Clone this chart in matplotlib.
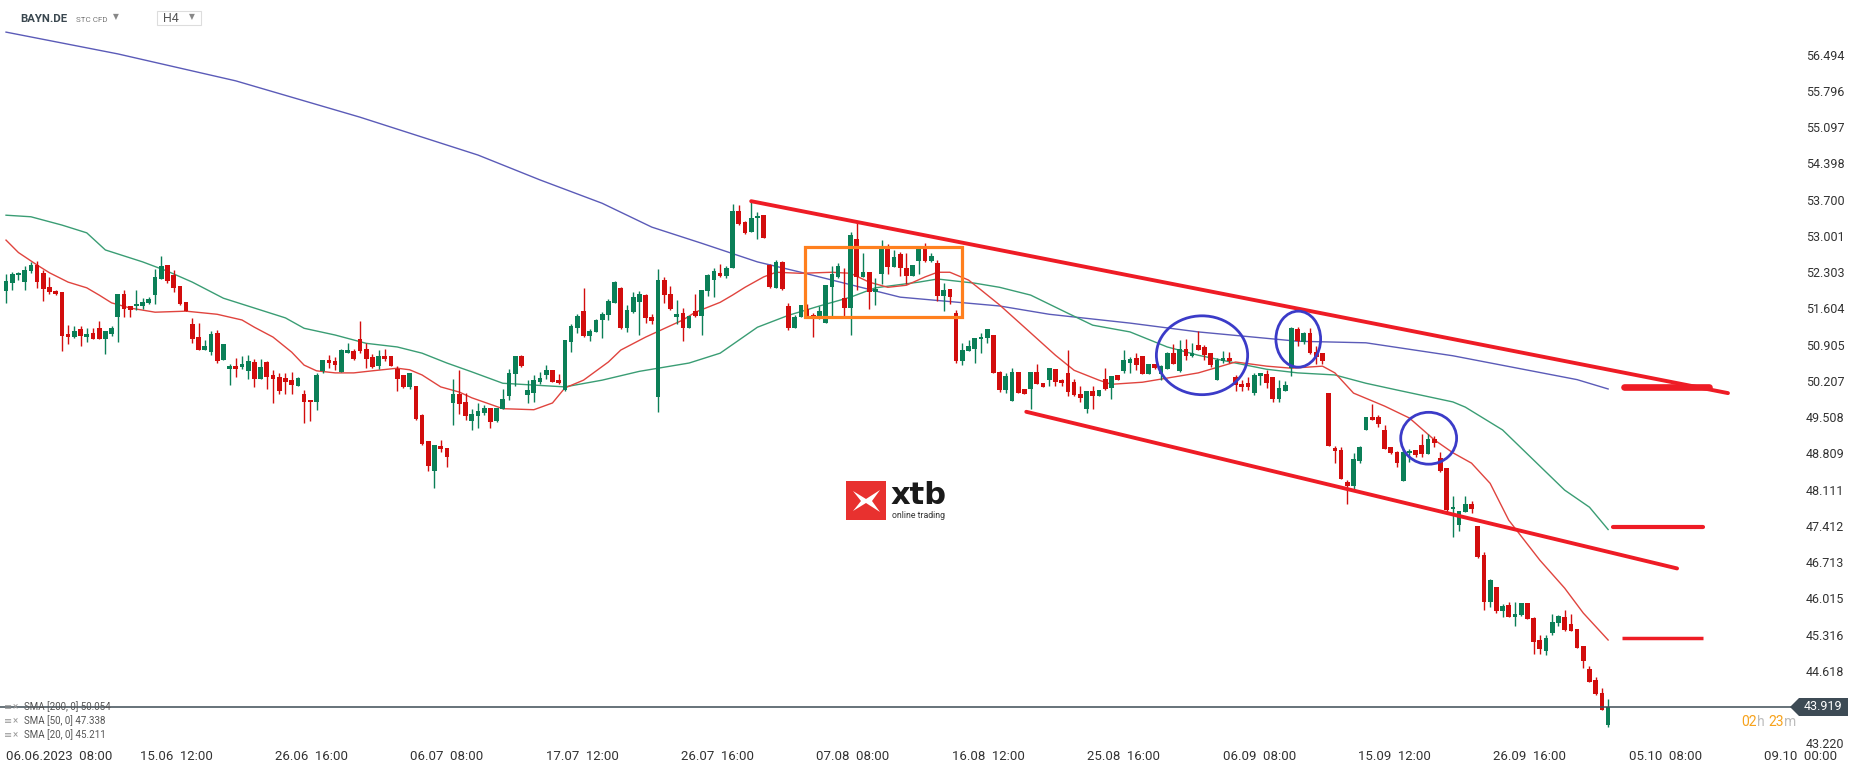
import numpy as np
import matplotlib.pyplot as plt
from matplotlib.patches import Ellipse, Rectangle, Polygon

plt.rcParams['font.family'] = ['Roboto', 'DejaVu Sans']

# H4 candles, BAYN.DE
open_ = [51.93, 52.10, 52.24, 52.12, 52.33, 52.44, 52.29, 52.01, 51.94, 51.92,
         51.11, 51.06, 51.21, 51.06, 51.13, 51.23, 51.02, 51.11, 51.43, 51.88,
         51.64, 51.64, 51.65, 51.71, 51.86, 52.17, 52.44, 52.25, 52.04, 51.73,
         51.30, 51.06, 50.81, 50.77, 51.13, 50.60, 50.43, 50.49, 50.47, 50.40,
         50.57, 50.25, 50.57, 50.31, 50.28, 50.26, 50.22, 50.11, 49.95, 49.84,
         49.80, 50.40, 50.61, 50.59, 50.38, 50.75, 50.78, 51.01, 50.82, 50.67,
         50.50, 50.69, 50.69, 50.43, 50.31, 50.09, 50.11, 49.55, 49.05, 48.47,
         48.96, 48.91, 49.77, 49.95, 49.80, 49.44, 49.53, 49.59, 49.69, 49.44,
         49.67, 49.91, 50.34, 50.69, 49.93, 49.98, 50.19, 50.32, 50.42, 50.22,
         50.03, 50.96, 51.22, 51.55, 51.08, 51.14, 51.38, 51.48, 51.71, 52.00,
         51.23, 51.54, 51.73, 51.86, 51.44, 49.90, 52.16, 51.89, 51.44, 51.51,
         51.23, 51.55, 51.46, 51.93, 52.15, 52.29, 52.23, 52.39, 53.48, 53.26,
         53.08, 53.34, 53.40, 52.44, 52.00, 52.50, 51.65, 51.23, 51.43, 51.60,
         51.48, 51.39, 51.33, 52.01, 52.20, 51.80, 51.62, 52.95, 52.20, 52.31,
         51.91, 52.26, 52.76, 52.40, 52.65, 52.39, 52.23, 52.52, 52.76, 52.52,
         52.48, 51.84, 51.97, 51.51, 50.58, 50.79, 50.83, 51.01, 51.03, 51.09,
         50.38, 50.03, 49.82, 50.38, 50.05, 50.05, 50.38, 50.16, 50.22, 50.43,
         50.22, 50.35, 50.18, 49.95, 49.67, 50.01, 49.91, 50.25, 50.06, 50.32,
         50.40, 50.56, 50.64, 50.68, 50.34, 50.53, 50.34, 50.43, 50.75, 50.40,
         50.82, 50.68, 50.89, 50.85, 50.74, 50.23, 50.59, 50.64, 50.29, 50.14,
         50.17, 49.98, 50.30, 50.34, 50.28, 49.86, 50.02, 50.45, 51.21, 50.96,
         51.12, 50.77, 50.74, 49.98, 48.92, 48.87, 48.26, 48.18, 48.67, 49.26,
         49.51, 49.51, 49.26, 48.94, 48.83, 48.28, 48.81, 48.87, 48.97, 48.80,
         49.08, 48.71, 48.52, 47.73, 47.43, 47.67, 47.83, 47.41, 46.85, 45.95,
         46.23, 45.77, 45.89, 45.66, 45.69, 45.92, 45.63, 45.21, 45.00, 45.35,
         45.53, 45.65, 45.52, 45.42, 45.09, 44.65, 44.44, 44.19, 43.57]
high = [52.27, 52.31, 52.31, 52.42, 52.50, 52.52, 52.34, 52.20, 51.96, 51.92,
        51.28, 51.26, 51.26, 51.23, 51.22, 51.37, 51.16, 51.26, 51.88, 51.96,
        51.65, 51.95, 51.80, 51.82, 52.36, 52.62, 52.44, 52.34, 52.04, 51.73,
        51.42, 51.32, 50.99, 51.17, 51.19, 50.92, 50.54, 50.64, 50.69, 50.70,
        50.63, 50.63, 50.59, 50.42, 50.36, 50.36, 50.38, 50.29, 50.03, 49.84,
        50.35, 50.60, 50.71, 50.67, 50.82, 50.94, 50.82, 51.36, 50.94, 50.72,
        50.80, 50.82, 50.69, 50.50, 50.31, 50.36, 50.11, 49.57, 49.05, 48.97,
        49.07, 48.91, 50.24, 50.42, 49.97, 49.66, 49.78, 49.74, 49.69, 49.69,
        50.04, 50.44, 50.69, 50.70, 50.22, 50.32, 50.38, 50.51, 50.42, 50.34,
        50.99, 51.31, 51.49, 52.00, 51.21, 51.39, 51.54, 51.78, 52.13, 52.02,
        51.67, 51.91, 51.94, 51.89, 51.49, 52.36, 52.21, 52.04, 51.76, 51.62,
        51.46, 51.89, 51.96, 52.26, 52.39, 52.46, 52.42, 53.61, 53.60, 53.29,
        53.69, 53.47, 53.40, 52.46, 52.54, 52.52, 51.70, 51.48, 51.67, 51.69,
        51.51, 51.64, 52.05, 52.42, 52.47, 52.38, 53.08, 53.26, 52.68, 52.31,
        52.18, 52.92, 52.84, 52.72, 52.70, 52.68, 52.44, 52.79, 52.86, 52.68,
        52.54, 52.09, 51.97, 51.58, 50.94, 50.99, 51.03, 51.13, 51.20, 51.09,
        50.40, 50.35, 50.45, 50.38, 50.05, 50.38, 50.53, 50.16, 50.45, 50.43,
        50.25, 50.81, 50.25, 50.11, 50.01, 50.11, 50.03, 50.45, 50.30, 50.32,
        50.80, 50.66, 50.74, 50.68, 50.53, 50.53, 50.51, 50.77, 50.91, 50.99,
        51.01, 50.94, 51.17, 50.90, 50.74, 50.65, 50.78, 50.77, 50.32, 50.22,
        50.29, 50.36, 50.36, 50.42, 50.28, 50.22, 50.21, 51.25, 51.25, 51.15,
        51.22, 50.88, 50.75, 49.98, 48.96, 48.94, 48.29, 48.81, 48.95, 49.51,
        49.76, 49.55, 49.35, 48.94, 48.86, 48.90, 48.90, 48.87, 49.18, 49.18,
        49.14, 48.84, 48.52, 47.99, 47.70, 47.99, 47.89, 47.41, 46.91, 46.38,
        46.23, 45.90, 45.95, 45.95, 45.92, 45.92, 45.65, 45.31, 45.31, 45.71,
        45.69, 45.79, 45.72, 45.42, 45.09, 44.71, 44.49, 44.28, 44.07]
low = [51.70, 51.95, 52.15, 51.96, 52.28, 52.00, 51.75, 51.89, 51.86, 50.79,
       50.92, 51.04, 50.87, 50.96, 51.01, 51.01, 50.72, 51.08, 50.96, 51.44,
       51.44, 51.57, 51.60, 51.69, 51.69, 52.17, 52.09, 51.91, 51.67, 51.56,
       50.94, 50.81, 50.81, 50.70, 50.56, 50.60, 50.12, 50.29, 50.44, 50.24,
       50.09, 50.25, 50.04, 49.77, 49.95, 49.95, 49.95, 50.11, 49.40, 49.44,
       49.64, 50.36, 50.45, 50.42, 50.38, 50.75, 50.61, 50.74, 50.46, 50.45,
       50.44, 50.59, 50.50, 50.02, 50.06, 50.04, 49.46, 48.97, 48.47, 48.14,
       48.84, 48.55, 49.36, 49.56, 49.45, 49.26, 49.29, 49.55, 49.30, 49.42,
       49.67, 49.84, 50.11, 50.48, 49.77, 49.79, 50.14, 50.25, 50.18, 50.15,
       50.02, 50.77, 51.12, 51.06, 50.98, 51.14, 51.03, 51.38, 51.71, 51.20,
       51.14, 51.51, 51.10, 51.33, 51.31, 49.60, 51.70, 51.57, 51.30, 50.98,
       51.23, 51.44, 51.10, 51.84, 51.82, 52.20, 52.18, 52.39, 53.22, 53.04,
       53.08, 52.95, 52.97, 51.99, 51.99, 51.96, 51.19, 51.23, 51.43, 51.43,
       51.06, 51.39, 51.33, 51.44, 52.18, 51.46, 51.09, 51.96, 52.20, 51.59,
       51.67, 52.07, 52.27, 52.40, 52.22, 52.07, 52.23, 52.26, 52.50, 52.49,
       51.75, 51.56, 51.69, 50.56, 50.52, 50.79, 50.56, 50.74, 50.93, 50.35,
       50.00, 49.98, 49.82, 49.98, 49.95, 49.66, 50.14, 50.09, 50.11, 50.11,
       50.11, 49.91, 49.91, 49.80, 49.59, 49.66, 49.91, 50.03, 49.85, 50.22,
       50.35, 50.35, 50.41, 50.34, 50.34, 50.43, 50.22, 50.43, 50.53, 50.38,
       50.61, 50.66, 50.80, 50.61, 50.48, 50.23, 50.56, 50.56, 50.01, 50.01,
       50.03, 49.93, 50.13, 50.06, 49.80, 49.80, 50.02, 50.30, 50.88, 50.92,
       50.72, 50.54, 50.54, 48.95, 48.63, 48.31, 47.84, 48.13, 48.62, 49.25,
       49.45, 49.32, 48.90, 48.80, 48.54, 48.28, 48.65, 48.74, 48.74, 48.80,
       48.94, 48.44, 47.68, 47.20, 47.32, 47.67, 47.65, 46.79, 45.79, 45.84,
       45.74, 45.66, 45.65, 45.48, 45.67, 45.61, 44.94, 44.95, 44.92, 45.31,
       45.48, 45.39, 45.39, 45.06, 44.68, 44.41, 44.15, 43.86, 43.54]
close = [52.13, 52.27, 52.28, 52.34, 52.44, 52.12, 51.98, 51.92, 51.88, 51.08,
         51.06, 51.16, 51.08, 51.11, 51.02, 51.01, 51.16, 51.22, 51.88, 51.60,
         51.58, 51.69, 51.73, 51.79, 52.21, 52.43, 52.14, 52.00, 51.69, 51.56,
         51.02, 50.81, 50.87, 51.11, 50.58, 50.92, 50.49, 50.44, 50.53, 50.58,
         50.25, 50.47, 50.29, 50.25, 50.02, 50.18, 50.13, 50.26, 49.80, 49.79,
         50.32, 50.60, 50.56, 50.51, 50.80, 50.80, 50.62, 50.78, 50.62, 50.48,
         50.69, 50.63, 50.50, 50.25, 50.09, 50.36, 49.48, 48.99, 48.57, 48.97,
         48.90, 48.73, 49.95, 49.76, 49.53, 49.57, 49.62, 49.69, 49.42, 49.69,
         49.85, 50.36, 50.69, 50.49, 50.03, 50.22, 50.26, 50.42, 50.19, 50.16,
         50.99, 51.26, 51.46, 51.07, 51.17, 51.38, 51.49, 51.75, 52.12, 51.23,
         51.57, 51.83, 51.89, 51.41, 51.37, 52.16, 51.86, 51.59, 51.49, 51.23,
         51.46, 51.46, 51.96, 52.25, 52.33, 52.23, 52.39, 53.48, 53.24, 53.05,
         53.35, 53.38, 52.97, 52.01, 52.50, 51.97, 51.23, 51.44, 51.66, 51.43,
         51.41, 51.55, 52.05, 52.27, 52.42, 51.62, 53.02, 52.21, 52.31, 51.91,
         51.97, 52.76, 52.41, 52.59, 52.38, 52.23, 52.44, 52.76, 52.52, 52.61,
         51.84, 51.96, 51.82, 50.58, 50.81, 50.88, 51.03, 51.06, 51.20, 50.35,
         50.03, 50.30, 50.38, 49.98, 49.96, 50.38, 50.14, 50.09, 50.45, 50.19,
         50.17, 50.00, 49.93, 49.87, 50.01, 49.91, 50.03, 50.05, 50.30, 50.22,
         50.61, 50.62, 50.52, 50.34, 50.53, 50.45, 50.50, 50.75, 50.53, 50.82,
         50.68, 50.74, 50.80, 50.70, 50.51, 50.61, 50.65, 50.58, 50.13, 50.09,
         50.08, 50.31, 50.36, 50.17, 49.86, 50.06, 50.13, 51.22, 50.97, 51.12,
         50.75, 50.67, 50.59, 48.95, 48.86, 48.31, 48.17, 48.70, 48.94, 49.50,
         49.46, 49.37, 48.90, 48.81, 48.62, 48.83, 48.86, 48.78, 48.80, 49.08,
         49.01, 48.47, 47.72, 47.77, 47.70, 47.83, 47.74, 46.82, 45.95, 46.37,
         45.77, 45.87, 45.65, 45.72, 45.92, 45.61, 45.18, 45.03, 45.24, 45.55,
         45.67, 45.40, 45.39, 45.06, 44.81, 44.41, 44.17, 43.87, 43.92]

# moving averages, sampled along the drawn lines (candle index, price)
sma200_idx = [0, 18, 37, 57, 76, 86, 96, 104, 112, 121, 128, 133, 144, 160, 168,
              181, 192, 208, 219, 233, 253, 258]
sma200_val = [56.93, 56.51, 55.99, 55.29, 54.56, 54.08, 53.63, 53.17, 52.86, 52.50,
              52.30, 52.15, 51.82, 51.65, 51.49, 51.32, 51.15, 50.97, 50.94, 50.69,
              50.23, 50.05]
sma50_idx = [0, 4, 9, 13, 16, 22, 26, 30, 35, 40, 45, 48, 53, 58, 63, 67, 71, 75,
             80, 90, 96, 102, 110, 115, 118, 121, 126, 131, 136, 140, 147, 150, 156,
             160, 165, 171, 175, 181, 187, 192, 198, 203, 208, 214, 219, 224, 233,
             235, 241, 246, 251, 255, 258]
sma50_val = [53.40, 53.37, 53.21, 53.06, 52.73, 52.50, 52.32, 52.11, 51.80, 51.61,
             51.42, 51.22, 51.09, 50.93, 50.86, 50.74, 50.55, 50.38, 50.16, 50.09,
             50.22, 50.39, 50.55, 50.74, 50.99, 51.24, 51.47, 51.65, 51.82, 52.00,
             52.11, 52.17, 52.09, 52.01, 51.86, 51.51, 51.28, 51.15, 50.86, 50.70,
             50.55, 50.43, 50.36, 50.32, 50.16, 50.03, 49.80, 49.70, 49.26, 48.68,
             48.10, 47.77, 47.34]
sma20_idx = [0, 2, 5, 7, 10, 13, 15, 17, 20, 24, 29, 34, 38, 40, 43, 46, 48, 50,
             53, 56, 59, 63, 65, 67, 70, 73, 75, 80, 85, 88, 90, 93, 97, 99, 103,
             109, 111, 115, 117, 119, 122, 124, 128, 133, 136, 139, 142, 145, 148,
             150, 152, 155, 157, 160, 164, 169, 172, 176, 178, 183, 187, 192, 198,
             203, 207, 212, 214, 217, 222, 226, 230, 233, 236, 239, 242, 247, 251,
             254, 258]
sma20_val = [52.92, 52.68, 52.44, 52.29, 52.11, 52.00, 51.86, 51.71, 51.61, 51.53,
             51.55, 51.49, 51.38, 51.24, 51.05, 50.76, 50.51, 50.40, 50.36, 50.36,
             50.40, 50.45, 50.42, 50.32, 50.09, 49.99, 49.88, 49.67, 49.65, 49.78,
             50.07, 50.22, 50.57, 50.80, 51.05, 51.38, 51.53, 51.72, 51.86, 52.01,
             52.21, 52.30, 52.28, 52.30, 52.28, 52.11, 52.01, 52.05, 52.21, 52.30,
             52.30, 52.15, 51.96, 51.67, 51.24, 50.70, 50.41, 50.22, 50.14, 50.18,
             50.26, 50.36, 50.57, 50.49, 50.45, 50.49, 50.36, 49.97, 49.72, 49.49,
             49.07, 48.82, 48.62, 48.23, 47.52, 46.75, 46.21, 45.73, 45.21]

price_ticks = [56.494, 55.796, 55.097, 54.398, 53.700, 53.001, 52.303, 51.604,
               50.905, 50.207, 49.508, 48.809, 48.111, 47.412, 46.713, 46.015,
               45.316, 44.618, 43.220]
last_price = 43.919
date_labels = ['15.06  12:00', '26.06  16:00', '06.07  08:00', '17.07  12:00',
               '26.07  16:00', '07.08  08:00', '16.08  12:00', '25.08  16:00',
               '06.09  08:00', '15.09  12:00', '26.09  16:00', '05.10  08:00',
               '09.10  00:00']
legend_rows = ['SMA [200, 0] 50.054', 'SMA [50, 0] 47.338', 'SMA [20, 0] 45.211']

GREEN = '#0b7f57'
RED = '#d20d0d'
TREND = '#ee1c25'

W, H = 1866, 767


def fx(px):
    return px / W


def fy(py):
    return 1 - py / H


o = np.array(open_)
h = np.array(high)
l = np.array(low)
c = np.array(close)
x = np.arange(len(c))
cols = np.where(c >= o, GREEN, RED)

fig = plt.figure(figsize=(W / 100, H / 100), dpi=100)
fig.patch.set_facecolor('white')
ax = fig.add_axes([0, 22 / H, 1782 / W, 745 / H])
ax.set_xlim(-0.97, 286.0)
ax.set_ylim(43.186, 57.549)
for s in ax.spines.values():
    s.set_visible(False)
ax.set_xticks([])
ax.yaxis.tick_right()
ax.set_yticks(price_ticks)
ax.set_yticklabels(['{:.3f}'.format(v) for v in price_ticks])
ax.tick_params(axis='y', length=0, pad=17, labelsize=9, labelcolor='#333333')

# candles
ax.vlines(x, l, h, colors=cols, lw=1.0, zorder=3)
body = np.maximum(np.abs(c - o), 0.025)
ax.bar(x, body, bottom=np.minimum(o, c), width=0.76, color=cols, lw=0, zorder=4)

# moving averages
ax.plot(sma200_idx, sma200_val, color='#5b5bb8', lw=1.0, zorder=2)
ax.plot(sma50_idx, sma50_val, color='#3a9d74', lw=1.0, zorder=2)
ax.plot(sma20_idx, sma20_val, color='#e0443e', lw=1.0, zorder=2)

# drawings
ax.plot([120.0, 277.3], [53.67, 49.97], color=TREND, lw=2.8, solid_capstyle='round', zorder=5)
ax.plot([164.3, 269.1], [49.61, 46.59], color=TREND, lw=2.8, solid_capstyle='round', zorder=5)
ax.plot([260.5, 274.2], [50.09, 50.09], color=TREND, lw=4.8, solid_capstyle='round', zorder=5)
ax.plot([258.8, 273.3], [47.38, 47.38], color=TREND, lw=3.0, solid_capstyle='round', zorder=5)
ax.plot([260.2, 273.3], [45.24, 45.24], color=TREND, lw=2.5, solid_capstyle='butt', zorder=5)

ax.add_patch(Rectangle((128.7, 51.44), 25.2, 1.35, fill=False, ec='#ff7f1e', lw=2.3, zorder=6))
for cx, cy, ew, eh in [(192.6, 50.70, 14.7, 1.52), (208.1, 51.01, 7.2, 1.08), (229.1, 49.10, 9.0, 1.00)]:
    ax.add_patch(Ellipse((cx, cy), ew, eh, fill=False, ec='#3b3bc8', lw=2.0, zorder=6))

# last price line and box
ax.plot([-0.97, (1792 - 6) / 6.21], [last_price, last_price], color='#3d4b55', lw=1.1,
        clip_on=False, zorder=5)
fig.add_artist(Polygon([(fx(1790), fy(707)), (fx(1799), fy(698)), (fx(1848), fy(698)),
                        (fx(1848), fy(716)), (fx(1799), fy(716))], closed=True,
                       transform=fig.transFigure, fc='#3d4b55', ec='none'))
fig.text(fx(1823), fy(707), '{:.3f}'.format(last_price), color='white', fontsize=9,
         ha='center', va='center')

# countdown
for px, txt, colr in [(1741, '02', '#f7a21b'), (1757, 'h', '#bdbdbd'),
                      (1768, '23', '#f7a21b'), (1784, 'm', '#bdbdbd')]:
    fig.text(fx(px), fy(722), txt, color=colr, fontsize=10, ha='left', va='center')

# time axis
fig.text(fx(6), fy(756), '06.06.2023  08:00', fontsize=9.5, color='#333333', ha='left', va='center')
for k, lab in enumerate(date_labels):
    xpos = 27.4 + 21.8 * k
    ax.text(xpos, -11 / 745, lab, transform=ax.get_xaxis_transform(), fontsize=9.5,
            color='#333333', ha='center', va='center', clip_on=False)

# indicator legend
for k, row in enumerate(legend_rows):
    yy = fy(707 + 14 * k)
    fig.text(fx(4), yy, '≡', fontsize=7, color='#9a9a9a', ha='left', va='center')
    fig.text(fx(13), yy, '×', fontsize=7, color='#9a9a9a', ha='left', va='center')
    fig.text(fx(24), yy, row, fontsize=7, color='#555555', ha='left', va='center')

# header
fig.text(fx(20), fy(19), 'BAYN.DE', fontsize=8.2, weight='bold', color='#3a474f', va='center')
fig.text(fx(76), fy(20), 'STC CFD', fontsize=5.8, color='#777777', va='center')
fig.text(fx(113), fy(17), '▼', fontsize=5.5, color='#888888', va='center')
fig.add_artist(Rectangle((fx(157), fy(25)), (201 - 157) / W, 14 / H, transform=fig.transFigure,
                         fill=False, ec='#dddddd', lw=0.8))
fig.text(fx(163), fy(19), 'H4', fontsize=9, color='#555555', va='center')
fig.text(fx(189), fy(17), '▼', fontsize=5.5, color='#888888', va='center')

# xtb logo
fig.add_artist(Rectangle((fx(846), fy(520)), 40 / W, 39 / H, transform=fig.transFigure,
                         fc='#e8312f', ec='none'))
fig.add_artist(Polygon([(fx(853), fy(491)), (fx(866), fy(499)), (fx(880), fy(490)),
                        (fx(872), fy(501)), (fx(880), fy(512)), (fx(866), fy(503)),
                        (fx(853), fy(511)), (fx(861), fy(501))], closed=True,
                       transform=fig.transFigure, fc='white', ec='none'))
fig.text(fx(891), fy(496), 'xtb', fontsize=22, weight='bold', color='#1a1a1a',
         family='DejaVu Sans', va='center')
fig.text(fx(892), fy(515), 'online trading', fontsize=6.3, color='#333333', va='center')

fig.savefig('out.png', dpi=100, facecolor='white')
